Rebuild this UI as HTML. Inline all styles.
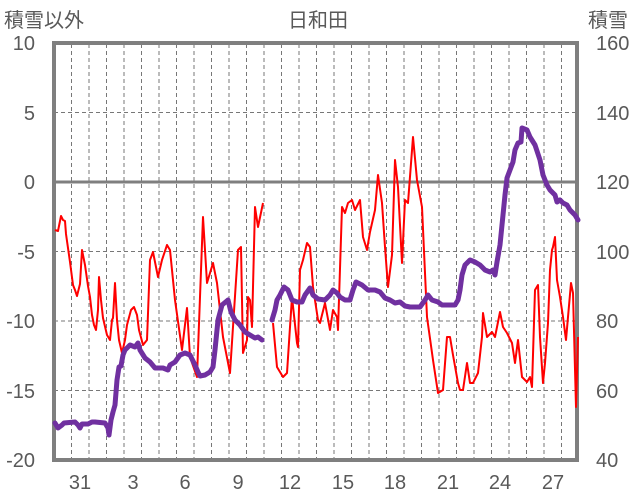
<!DOCTYPE html>
<html><head><meta charset="utf-8"><style>
html,body{margin:0;padding:0;background:#fff;}
svg{display:block;font-family:"Liberation Sans","Noto Sans CJK JP",sans-serif;}
</style></head><body>
<svg width="636" height="501" viewBox="0 0 636 501">
<g fill="#595959" font-size="20">
<text x="4" y="27">積雪以外</text>
<text x="318" y="27" text-anchor="middle">日和田</text>
<text x="588" y="27">積雪</text>
<g text-anchor="end">
<text x="35" y="50">10</text><text x="35" y="120">5</text><text x="35" y="189">0</text>
<text x="35" y="259">-5</text><text x="35" y="328">-10</text><text x="35" y="398">-15</text><text x="35" y="467">-20</text>
</g>
<g>
<text x="596" y="50">160</text><text x="596" y="189">120</text><text x="596" y="259">100</text>
<text x="596" y="328">80</text><text x="596" y="398">60</text><text x="596" y="467">40</text>
<text x="596" y="120">140</text>
</g>
<g text-anchor="middle">
<text x="80" y="489">31</text><text x="133" y="489">3</text><text x="185" y="489">6</text>
<text x="238" y="489">9</text><text x="290" y="489">12</text><text x="343" y="489">15</text>
<text x="395" y="489">18</text><text x="448" y="489">21</text><text x="500" y="489">24</text>
<text x="553" y="489">27</text>
</g>
</g>
<g stroke="#777" stroke-width="1" stroke-dasharray="4,3">
<path d="M71.5 44V459M89 44V459M106.5 44V459M124 44V459M141.5 44V459M159 44V459M176.5 44V459M194 44V459M211.5 44V459M229 44V459M246.5 44V459M264 44V459M281.5 44V459M299 44V459M316.5 44V459M334 44V459M351.5 44V459M369 44V459M386.5 44V459M404 44V459M421.5 44V459M439 44V459M456.5 44V459M474 44V459M491.5 44V459M509 44V459M526.5 44V459M544 44V459M561.5 44V459"/>
<path d="M54 112.5H577M54 251.5H577M54 321H577M54 390.5H577"/>
</g>
<path d="M54 182H577" stroke="#7f7f7f" stroke-width="3"/>
<rect x="54" y="43" width="523" height="417" fill="none" stroke="#7f7f7f" stroke-width="4"/>
<polyline fill="none" stroke="#ff0000" stroke-width="2" stroke-linejoin="round" points="55,230 58,231 61,216 63,220 65,221 66,234 70,262 73,285 75,290 77,296 80,284 82,250 85,265 88,286 90,297 92,315 94,325 96,330 98,310 99,277 101,300 103,318 107,335 110,340 112,320 113,318 115,283 117,320 119,340 122,353 125,340 127,325 131,310 134,307 137,315 139,330 143,345 147,340 150,260 153,252 158,277 162,260 167,245 170,250 175,300 182,350 187,308 190,357 197,377 203,217 207,283 213,263 217,283 223,337 230,373 238,250 241,247 243,353 247,340 248,297 250,300 252,327 255,207 258,227 263,203"/>
<polyline fill="none" stroke="#ff0000" stroke-width="2" stroke-linejoin="round" points="273,323 277,367 283,377 287,373 290,327 292,297 297,343 298,347 300,270 303,260 307,243 310,247 313,287 318,320 320,323 325,303 330,330 333,310 337,317 338,330 342,207 345,213 348,203 352,200 355,210 360,200 363,237 367,250 370,232 375,210 378,175 382,203 385,247 388,287 392,255 395,160 398,187 402,263 405,200 408,203 413,137 417,180 422,207 427,317 433,360 438,393 443,390 447,337 450,337 453,355 458,383 460,390 463,390 467,363 470,383 473,383 478,373 482,337 483,313 487,337 492,332 495,337 500,312 503,327 507,333 512,343 515,363 518,340 522,377 527,382 530,377 532,387 535,290 538,285 540,337 543,383 545,363 548,323 550,270 552,250 553,247 555,237 557,280 560,297 563,317 566,340 568,317 571,283 573,293 576,407 578,337"/>
<g fill="none" stroke="#7030a0" stroke-width="5" stroke-linejoin="round" stroke-linecap="round">
<polyline points="55,423 58,428 62,425 64,423 75,422 78,425 80,428 82,424 88,424 92,422 95,422 105,423 108,428 109,435 111,420 113,412 115,405 117,380 119,367 121,366 123,355 125,350 130,345 135,347 138,343 140,350 145,358 150,362 155,368 163,368 168,370 170,365 175,362 180,355 185,353 190,355 195,365 198,372 200,376 205,375 210,372 213,367 215,350 218,320 222,305 228,300 231,312 235,320 240,325 245,332 250,335 255,338 258,337 262,340"/>
<polyline points="272,320 275,310 277,300 280,295 284,287 288,290 292,300 297,302 302,302 305,295 310,288 313,295 318,299 325,300 330,295 333,290 337,293 340,297 345,300 350,300 353,290 356,282 362,285 368,290 375,290 380,292 385,298 390,300 395,303 400,302 405,306 410,307 420,307 425,300 428,295 432,300 438,302 442,305 448,305 455,305 458,300 460,290 462,275 465,265 470,260 475,262 480,265 485,270 490,272 493,270 495,275 497,262 500,245 502,225 505,195 507,178 510,170 513,162 515,150 518,143 521,142 522,128 527,130 530,137 535,145 540,160 543,175 547,185 550,190 555,195 557,202 560,200 563,203 567,205 570,210 575,215 578,220"/>
</g>
</svg>
</body></html>
